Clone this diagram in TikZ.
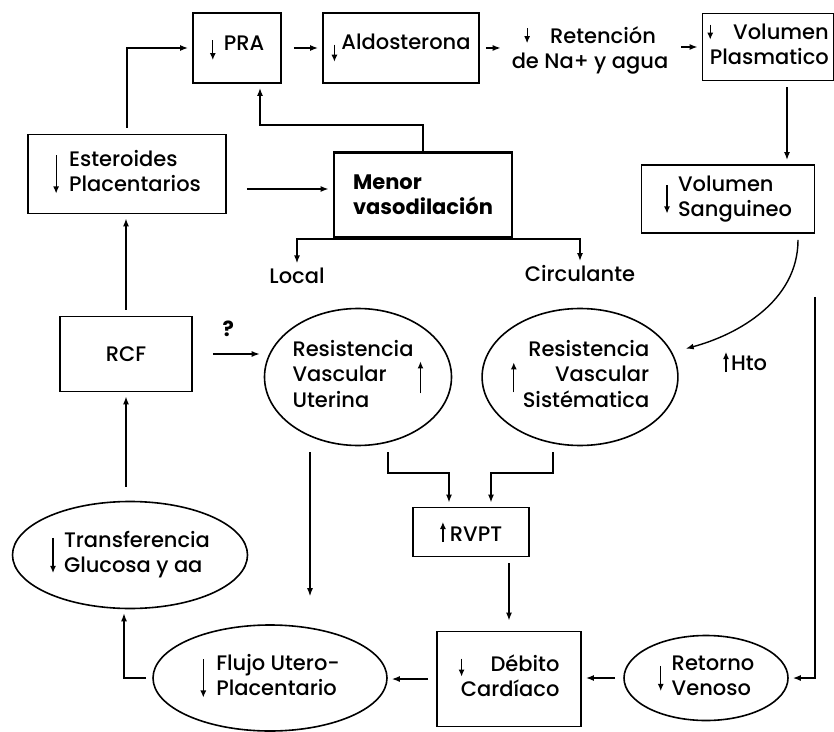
\documentclass[tikz,border=0pt]{standalone}
\usepackage{fontspec}
\setmainfont{Poppins}[UprightFont=* Medium, BoldFont=* Bold]
\usetikzlibrary{arrows.meta, shapes.geometric}

\tikzset{tip/.style={-{Latex[length=3.5pt,width=3pt]}, line width=0.6pt}}
% small arrows in front of labels: #1 baseline, #2 half length
\newcommand{\dnarr}[2]{\tikz[baseline=#1]\draw[tip] (0pt,#2) -- (0pt,-#2);}
\newcommand{\uparr}[2]{\tikz[baseline=#1]\draw[tip] (0pt,-#2) -- (0pt,#2);}

\begin{document}
\begin{tikzpicture}[x=0.5pt, y=-0.5pt, font=\fontsize{10.5}{12.5}\selectfont, line width=0.7pt,
  box/.style={draw, line width=0.9pt, inner sep=0pt},
  oval/.style={draw, ellipse, line width=0.8pt, inner sep=0pt},
  word/.style={inner sep=1pt},
  link/.style={-{Latex[length=4pt,width=3pt]}, shorten <=3pt, shorten >=2pt}]
    \useasboundingbox (0,0) rectangle (834,732);

    % top row
    \node[box, minimum width=44pt, minimum height=35pt] (pra) at (237,48) {\dnarr{0pt}{5pt}\hspace{4pt}PRA};
    \node[box, minimum width=78pt, minimum height=35pt] (aldo) at (401,48) {\dnarr{2pt}{4.25pt}\hspace{2pt}Aldosterona};
    \node[align=center] (reten) at (590,50) {\dnarr{-3.7pt}{3.75pt}\hspace{10pt}Retención\\de Na+ y agua};
    \node[box, minimum width=65.5pt, minimum height=33.5pt] (vplas) at (768,47) {\begin{tabular}{@{}r@{}}\dnarr{-3.7pt}{3.75pt}\hspace{10pt}Volumen\\Plasmatico\end{tabular}};

    \node[box, minimum width=99pt, minimum height=39.5pt] (est) at (127,174) {\dnarr{-2.5pt}{9.5pt}\hspace{5pt}\begin{tabular}{@{}l@{}}Esteroides\\Placentarios\end{tabular}};
    \node[box, line width=1.4pt, minimum width=89pt, minimum height=42.5pt, font=\fontsize{10.5}{12.5}\selectfont\bfseries, align=left] (menor) at (423,195) {Menor\\vasodilación};
    \node[box, minimum width=86.5pt, minimum height=34pt] (vsang) at (728,199) {\dnarr{-2.5pt}{7pt}\hspace{4pt}\begin{tabular}{@{}l@{}}Volumen\\Sanguineo\end{tabular}};

    \node[word] (local) at (297,276) {Local};
    \node[word] (circ) at (580,274) {Circulante};

    % middle row
    \node[box, minimum width=66pt, minimum height=37.5pt] (rcf) at (126,354) {RCF};
    \node[oval, minimum width=93.5pt, minimum height=68.5pt] (rvu) at (358,377) {\begin{tabular}{@{}l@{}}Resistencia\\Vascular\\Uterina\end{tabular}\hspace{2pt}\uparr{-2.5pt}{8pt}};
    \node[oval, minimum width=93.5pt, minimum height=68.5pt] (rvs) at (580,377) {\uparr{-2.5pt}{7.5pt}\hspace{3pt}\begin{tabular}{@{}r@{}}Resistencia\\Vascular\\Sistématica\end{tabular}};
    \node[word] (hto) at (745,362) {\uparr{-4.5pt}{5pt}\hspace{1pt}Hto};
    \node[box, minimum width=58pt, minimum height=24.5pt] (rvpt) at (471,532) {\uparr{-4.5pt}{5pt}\hspace{2pt}RVPT};

    % bottom row
    \node[oval, minimum width=117.5pt, minimum height=53.5pt] (trans) at (130,555) {\dnarr{-2.5pt}{8.75pt}\hspace{4pt}\begin{tabular}{@{}l@{}}Transferencia\\Glucosa y aa\end{tabular}};
    \node[oval, minimum width=117pt, minimum height=53pt] (flujo) at (270,678) {\dnarr{-2.5pt}{9.5pt}\hspace{5pt}\begin{tabular}{@{}l@{}}Flujo Utero-\\Placentario\end{tabular}};
    \node[box, minimum width=72pt, minimum height=47.5pt] (deb) at (509,679) {\begin{tabular}{@{}r@{}}\dnarr{-2pt}{4.5pt}\hspace{13pt}Débito\\Cardíaco\end{tabular}};
    \node[oval, minimum width=82pt, minimum height=42.5pt] (retv) at (706,678) {\dnarr{-2.5pt}{6.25pt}\hspace{4pt}\begin{tabular}{@{}l@{}}Retorno\\Venoso\end{tabular}};

    \coordinate (knee) at (260,125);
    \coordinate (m1) at ([yshift=3pt]menor.west);
    \coordinate (j1) at (449,473);
    \coordinate (j2) at (491,473);
    \coordinate (rtop) at (815,297);

    % arrows
    \draw[link] (est.north) |- (pra.west);
    \draw[link, shorten <=6pt] (pra.east) -- (aldo.west);
    \draw[link] (aldo.east) -- (aldo.east -| reten.west);
    \draw[link] (reten.east |- vplas.west) -- (vplas.west);
    \draw[link] ([xshift=9.5pt]vplas.south) -- ([xshift=9.5pt]vplas.south |- vsang.north);
    \draw[link, shorten <=10pt] (est.east |- m1) -- (m1);
    \draw[link, shorten <=0pt] (menor.north) |- (knee) -- (knee |- pra.south);
    \draw[link, shorten <=0pt, shorten >=1pt, line width=1pt] (menor.south) -| (local.north);
    \draw[link, shorten <=0pt, shorten >=1pt, line width=1pt] (menor.south) -| (circ.north);
    \draw[link, shorten >=7pt] ([xshift=35pt]vsang.south) to[out=-90, in=15] (rvs.15);
    \draw[link] (rcf.north) -- (rcf.north |- est.south);
    \draw[link, shorten <=10pt] (rcf.east) -- (rcf.east -| rvu.west) node[midway, above=5pt, font=\fontsize{10.5}{12.5}\selectfont\bfseries] (q) {?};
    \draw[link, shorten <=7pt] (trans.north -| rcf.south) -- (rcf.south);
    \draw[link, shorten <=3pt] (flujo.west) -| ([xshift=-3pt]trans.south);
    \draw[link, shorten >=14pt] ([xshift=-24pt]rvu.south) -- ([xshift=-24pt]rvu.south |- flujo.north);
    \draw[link] ([xshift=15pt]rvu.south) |- (j1) -- (j1 |- rvpt.north);
    \draw[link] ([xshift=-13.5pt]rvs.south) |- (j2) -- (j2 |- rvpt.north);
    \draw[link, shorten >=5pt] (rvpt.south -| deb.north) -- (deb.north);
    \draw[link, shorten <=4pt] (deb.west) -- (deb.west -| flujo.east);
    \draw[link, shorten <=4pt] (retv.west) -- (retv.west -| deb.east);
    \draw[link, shorten <=0pt] (rtop) |- (retv.east);
\end{tikzpicture}
\end{document}
